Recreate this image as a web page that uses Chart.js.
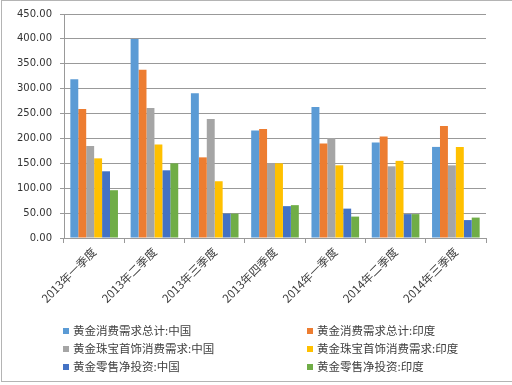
<!DOCTYPE html>
<html>
<head>
<meta charset="utf-8">
<script src="https://cdn.jsdelivr.net/npm/chart.js@4/dist/chart.umd.min.js"></script>
<style>
  html, body { margin: 0; padding: 0; background: #fff; overflow: hidden; }
  #wrap { position: relative; width: 512px; height: 385px; }
  #frame { position: absolute; left: 1px; top: 0; width: 540px; height: 382px; border: 1px solid #b4b4b4; box-sizing: border-box; }
  #c { position: absolute; left: 0; top: 0; }
  #legend { position: absolute; left: 0; top: 0; width: 512px; height: 385px; pointer-events: none;
    font-family: "Noto Sans CJK SC", sans-serif; font-size: 11.5px; color: #404040; }
  .item { position: absolute; height: 16px; line-height: 16px; white-space: nowrap; }
  .item i { display: inline-block; width: 6px; height: 6px; margin-right: 4px; vertical-align: 1px; }
</style>
</head>
<body>
<div id="wrap">
  <div id="frame"></div>
  <canvas id="c" width="512" height="385"></canvas>
  <div id="legend"></div>
</div>
<script>
// Categories and series
const quarters = ['2013年一季度', '2013年二季度', '2013年三季度', '2013年四季度', '2014年一季度', '2014年二季度', '2014年三季度'];
const seriesNames = ['黄金消费需求总计:中国', '黄金消费需求总计:印度', '黄金珠宝首饰消费需求:中国', '黄金珠宝首饰消费需求:印度', '黄金零售净投资:中国', '黄金零售净投资:印度'];
const totalChina = [319, 400, 291, 216, 263, 192, 183];
const totalIndia = [259, 338, 162, 219, 190, 204, 225];
const jewelryChina = [185, 261, 239, 150, 201, 144, 146];
const jewelryIndia = [160, 188, 114, 150, 146, 155, 183];
const investChina = [134, 136, 49, 64, 59, 48, 36];
const investIndia = [96, 150, 49, 66, 43, 48, 41];
const colors = ['#5B9BD5', '#ED7D31', '#A5A5A5', '#FFC000', '#4472C4', '#70AD47'];

const values = [totalChina, totalIndia, jewelryChina, jewelryIndia, investChina, investIndia];

const datasets = values.map((d, i) => ({
  label: seriesNames[i],
  data: d,
  backgroundColor: colors[i],
  borderWidth: 0,
  categoryPercentage: 0.79,
  barPercentage: 1.0
}));

const PLOT_LEFT = 64, PLOT_RIGHT = 486, PLOT_TOP = 12, PLOT_BOTTOM = 238;

new Chart(document.getElementById('c'), {
  type: 'bar',
  data: { labels: quarters, datasets: datasets },
  options: {
    responsive: false,
    animation: false,
    layout: { padding: { left: 0, right: 512 - PLOT_RIGHT, top: PLOT_TOP, bottom: 0 } },
    plugins: { legend: { display: false }, tooltip: { enabled: false } },
    scales: {
      x: {
        grid: { drawOnChartArea: false, drawTicks: true, tickLength: 5, color: '#999', offset: true },
        border: { color: '#999', width: 1 },
        ticks: {
          minRotation: 45, maxRotation: 45, padding: 2, autoSkip: false,
          color: '#404040', font: { family: '"Noto Sans CJK SC", sans-serif', size: 11.5 }
        },
        afterFit: s => { s.height = 385 - PLOT_BOTTOM; }
      },
      y: {
        min: 0, max: 450,
        grid: { color: '#999', lineWidth: 1, tickLength: 4 },
        border: { color: '#999', width: 1 },
        ticks: {
          stepSize: 50, padding: 8, color: '#333',
          font: { family: '"DejaVu Sans", sans-serif', size: 10 },
          callback: v => v.toFixed(2)
        },
        afterFit: s => { s.width = PLOT_LEFT; }
      }
    }
  }
});

// Two-column legend like the original
const legend = document.getElementById('legend');
const colX = [63, 307];
const rowY = [322, 340, 358];
seriesNames.forEach((name, i) => {
  const el = document.createElement('div');
  el.className = 'item';
  el.style.left = colX[i % 2] + 'px';
  el.style.top = rowY[Math.floor(i / 2)] + 'px';
  el.innerHTML = '<i style="background:' + colors[i] + '"></i>' + name;
  legend.appendChild(el);
});
</script>
</body>
</html>
